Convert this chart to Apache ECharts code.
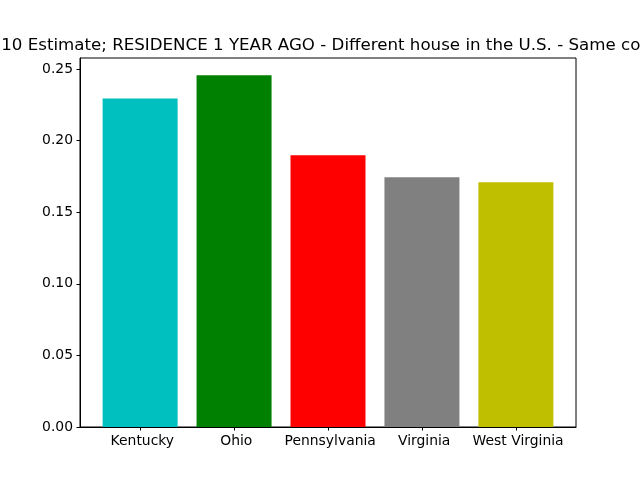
<!DOCTYPE html>
<html><head><meta charset="utf-8">
<script src="https://cdn.jsdelivr.net/npm/echarts@6/dist/echarts.min.js"></script>
<style>html,body{margin:0;padding:0;background:#fff}#c{width:640px;height:480px}</style>
</head><body><div id="c"></div>
<script>
const titleText = "2010 Estimate; RESIDENCE 1 YEAR AGO - Different house in the U.S. - Same county";
const categories = [" Kentucky", " Ohio", " Pennsylvania", " Virginia", " West Virginia"];
const values = [0.2295, 0.2456, 0.1897, 0.1744, 0.1709];
const colors = ["#00bfbf", "#008000", "#ff0000", "#808080", "#bfbf00"];
const yTicks = [0, 0.05, 0.10, 0.15, 0.20, 0.25];

const font = "DejaVu Sans";
const chart = echarts.init(document.getElementById('c'), null, {renderer: 'canvas'});
chart.setOption({
  animation: false,
  backgroundColor: '#fff',
  title: {
    text: titleText, left: -25, top: 32,
    textStyle: {fontFamily: font, fontSize: 16.67, fontWeight: 'normal', color: '#000'}
  },
  grid: {left: 80, right: 64, top: 58, bottom: 53, show: true, borderColor: '#000', borderWidth: 1, backgroundColor: 'transparent'},
  xAxis: {
    type: 'value', min: -0.64, max: 4.64,
    splitLine: {show: false},
    axisLine: {show: true, onZero: false, lineStyle: {color: '#000', width: 1}},
    axisTick: {show: true, length: 3.5, inside: false, lineStyle: {color: '#000'}, customValues: categories.map((_, i) => i)},
    axisLabel: {margin: 7, fontFamily: font, fontSize: 13.9, color: '#000',
      customValues: categories.map((_, i) => i),
      formatter: v => categories[Math.round(v)] || ''}
  },
  yAxis: {
    type: 'value', min: 0, max: 0.2577,
    splitLine: {show: false},
    axisLine: {show: true, onZero: false, lineStyle: {color: '#000', width: 1}},
    axisTick: {show: true, length: 3.5, lineStyle: {color: '#000'}, customValues: yTicks},
    axisLabel: {margin: 7, fontFamily: font, fontSize: 13.9, color: '#000',
      customValues: yTicks, formatter: v => v.toFixed(2)}
  },
  series: [{
    type: 'bar', barWidth: 75,
    data: values.map((v, i) => ({value: [i, v], itemStyle: {color: colors[i]}}))
  }]
});
</script></body></html>
